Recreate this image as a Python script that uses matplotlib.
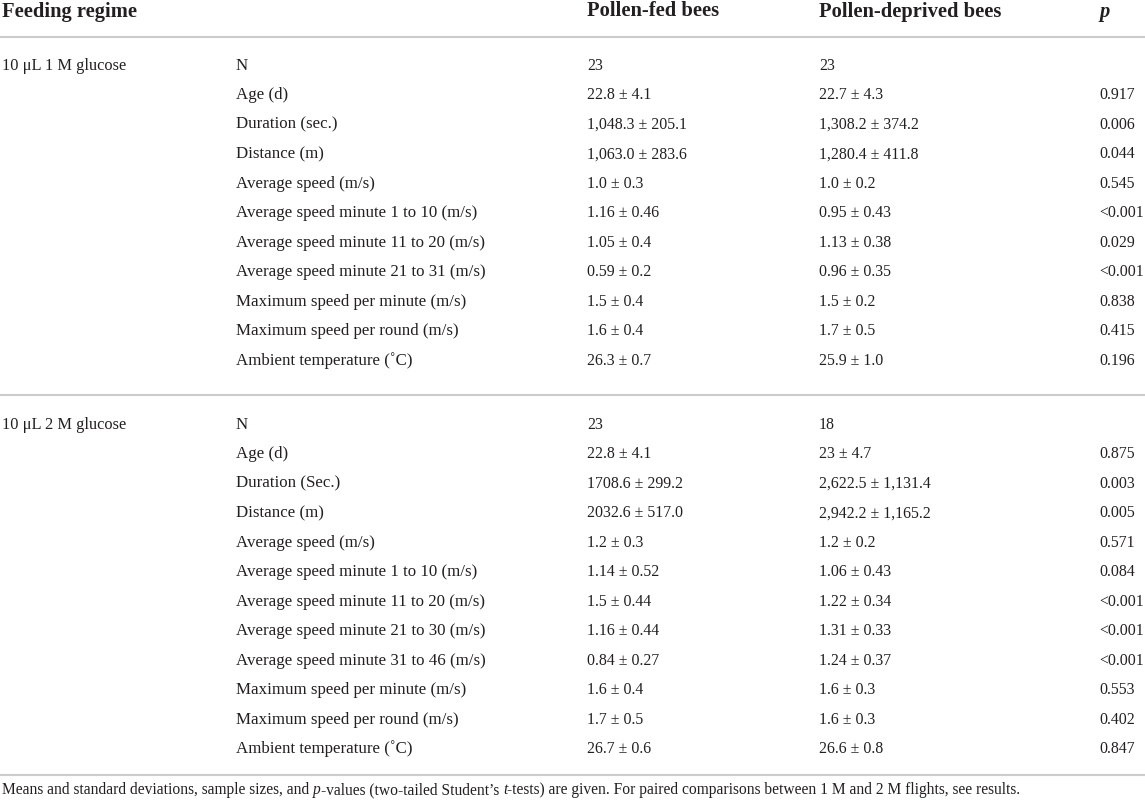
import matplotlib
matplotlib.use("Agg")
import matplotlib.pyplot as plt

FONT = ["Liberation Serif", "DejaVu Serif"]
plt.rcParams["font.family"] = FONT

headers = ["Feeding regime", "Pollen-fed bees", "Pollen-deprived bees", "p"]

groups = ["10 μL 1 M glucose", "10 μL 2 M glucose"]

labels_1 = ["N", "Age (d)", "Duration (sec.)", "Distance (m)", "Average speed (m/s)",
            "Average speed minute 1 to 10 (m/s)", "Average speed minute 11 to 20 (m/s)",
            "Average speed minute 21 to 31 (m/s)", "Maximum speed per minute (m/s)",
            "Maximum speed per round (m/s)", "Ambient temperature (˚C)"]
fed_1 = ["23", "22.8 ± 4.1", "1,048.3 ± 205.1", "1,063.0 ± 283.6", "1.0 ± 0.3",
         "1.16 ± 0.46", "1.05 ± 0.4", "0.59 ± 0.2", "1.5 ± 0.4", "1.6 ± 0.4", "26.3 ± 0.7"]
dep_1 = ["23", "22.7 ± 4.3", "1,308.2 ± 374.2", "1,280.4 ± 411.8", "1.0 ± 0.2",
         "0.95 ± 0.43", "1.13 ± 0.38", "0.96 ± 0.35", "1.5 ± 0.2", "1.7 ± 0.5", "25.9 ± 1.0"]
p_1 = ["", "0.917", "0.006", "0.044", "0.545", "<0.001", "0.029", "<0.001", "0.838", "0.415", "0.196"]

labels_2 = ["N", "Age (d)", "Duration (Sec.)", "Distance (m)", "Average speed (m/s)",
            "Average speed minute 1 to 10 (m/s)", "Average speed minute 11 to 20 (m/s)",
            "Average speed minute 21 to 30 (m/s)", "Average speed minute 31 to 46 (m/s)",
            "Maximum speed per minute (m/s)", "Maximum speed per round (m/s)",
            "Ambient temperature (˚C)"]
fed_2 = ["23", "22.8 ± 4.1", "1708.6 ± 299.2", "2032.6 ± 517.0", "1.2 ± 0.3", "1.14 ± 0.52",
         "1.5 ± 0.44", "1.16 ± 0.44", "0.84 ± 0.27", "1.6 ± 0.4", "1.7 ± 0.5", "26.7 ± 0.6"]
dep_2 = ["18", "23 ± 4.7", "2,622.5 ± 1,131.4", "2,942.2 ± 1,165.2", "1.2 ± 0.2", "1.06 ± 0.43",
         "1.22 ± 0.34", "1.31 ± 0.33", "1.24 ± 0.37", "1.6 ± 0.3", "1.6 ± 0.3", "26.6 ± 0.8"]
p_2 = ["", "0.875", "0.003", "0.005", "0.571", "0.084", "<0.001", "<0.001", "<0.001",
       "0.553", "0.402", "0.847"]

footnote = [("Means and standard deviations, sample sizes, and ", "normal"),
            ("p", "italic"),
            ("-values (two-tailed Student\u2019s ", "normal"),
            ("t", "italic"),
            ("-tests) are given. For paired comparisons between 1 M and 2 M flights, see results.", "normal")]

W, H = 1145, 800
fig = plt.figure(figsize=(W / 100, H / 100), dpi=100)
ax = fig.add_axes([0, 0, 1, 1])
ax.set_xlim(0, W)
ax.set_ylim(H, 0)
ax.axis("off")

TXT = "#231f20"
LINE = "#cccccc"
fs_lab = 12.2
fs_num = 11.4
fs_grp = 11.8
fs_head = 14.8

col_x = [2, 236, 587, 819, 1099]

# header
hy = 16.5
ax.text(col_x[0], hy, headers[0], fontsize=fs_head, fontweight="bold", va="baseline", ha="left", color=TXT)
ax.text(col_x[2], hy, headers[1], fontsize=fs_head, fontweight="bold", va="baseline", ha="left", color=TXT)
ax.text(col_x[3], hy, headers[2], fontsize=fs_head, fontweight="bold", va="baseline", ha="left", color=TXT)
ax.text(col_x[4], hy, headers[3], fontsize=fs_head, fontweight="bold", style="italic", va="baseline", ha="left", color=TXT)

for y in (36.5, 395, 775):
    ax.plot([0, W], [y, y], color=LINE, lw=1.5, solid_capstyle="butt")


def draw_section(y0, step, group, labels, fed, dep, pv):
    ax.text(col_x[0], y0, group, fontsize=fs_grp, va="baseline", ha="left", color=TXT)
    for i, (lab, a, b, p) in enumerate(zip(labels, fed, dep, pv)):
        y = y0 + i * step
        ax.text(col_x[1], y, lab, fontsize=fs_lab, va="baseline", ha="left", color=TXT)
        ax.text(col_x[2], y, a, fontsize=fs_num, va="baseline", ha="left", color=TXT)
        ax.text(col_x[3], y, b, fontsize=fs_num, va="baseline", ha="left", color=TXT)
        ax.text(col_x[4], y, p, fontsize=fs_num, va="baseline", ha="left", color=TXT)


draw_section(69.5, 29.55, groups[0], labels_1, fed_1, dep_1, p_1)
draw_section(428.7, 29.5, groups[1], labels_2, fed_2, dep_2, p_2)

# footnote with italic pieces
fig.canvas.draw()
renderer = fig.canvas.get_renderer()
x = col_x[0]
for s, st in footnote:
    t = ax.text(x, 794, s, fontsize=11.2, style=st, va="baseline", ha="left", color=TXT)
    bb = t.get_window_extent(renderer=renderer)
    x += bb.width

fig.savefig("out.png", dpi=100)
